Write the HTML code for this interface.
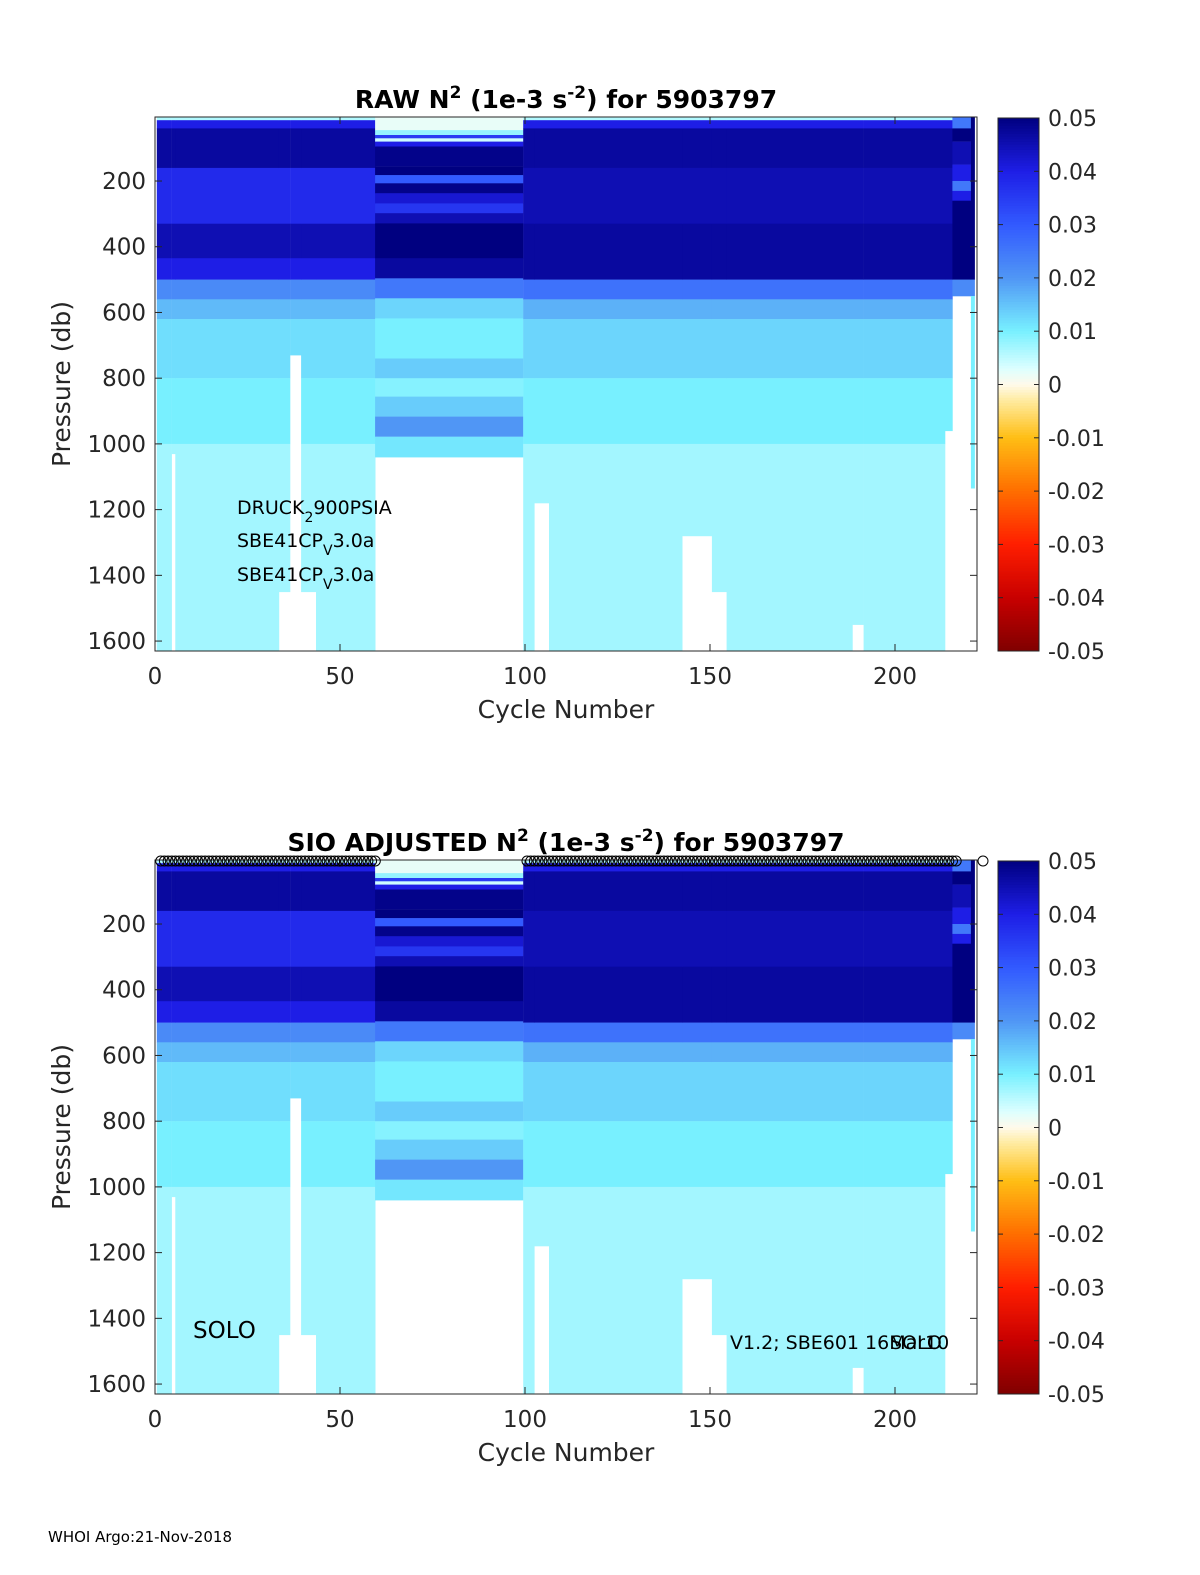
<!DOCTYPE html>
<html><head><meta charset="utf-8">
<style>
html,body{margin:0;padding:0;background:#fff;overflow:hidden;width:1200px;height:1575px;}
svg{display:block;font-family:"DejaVu Sans","Liberation Sans",sans-serif;}
</style></head>
<body>
<svg id="fig" width="1200" height="1575" viewBox="0 0 1200 1575" xmlns="http://www.w3.org/2000/svg">
<rect width="1200" height="1575" fill="#fff"/>
<text x="48" y="1542" font-size="15" fill="#000">WHOI Argo:21-Nov-2018</text>
</svg>
<script>
// ---------- data ----------
const cycleSegStart = [1, 5, 6, 34, 37, 40, 44, 60, 100, 103, 107, 143, 151, 155, 189, 192, 214, 216, 221];
const cycleSegEnd   = [4, 5, 33, 36, 39, 43, 59, 99, 102, 106, 142, 150, 154, 188, 191, 213, 215, 220, 221];
const cycleSegMaxP  = [1630, 1030, 1630, 1450, 730, 1450, 1630, 1040, 1630, 1180, 1630, 1280, 1450, 1630, 1550, 1630, 960, 550, 1135];
const cycleSegType  = ['A','A','A','A','A','A','A','B','C','C','C','C','C','C','C','C','C','D','E'];
// band edges (db) and N2 values (1e-3 s^-2) per profile type
const edgesA = [0, 15, 40, 160, 330, 435, 500, 560, 620, 800, 1000, 1630];
const valsA  = [0.006, 0.04, 0.047, 0.038, 0.045, 0.04, 0.022, 0.016, 0.012, 0.010, 0.007];
const edgesB = [0, 45, 60, 70, 80, 95, 156, 182, 207, 237, 268, 298, 329, 435, 496, 557, 618, 740, 800, 856, 917, 978, 1040];
const valsB  = [0.002, 0.008, 0.035, 0.004, 0.04, 0.049, 0.05, 0.03, 0.049, 0.042, 0.036, 0.045, 0.05, 0.047, 0.025, 0.013, 0.010, 0.014, 0.009, 0.014, 0.02, 0.011];
const edgesC = [0, 15, 40, 160, 330, 500, 560, 620, 800, 1000, 1630];
const valsC  = [0.006, 0.04, 0.047, 0.045, 0.047, 0.026, 0.017, 0.013, 0.010, 0.007];
const edgesD = [0, 40, 80, 150, 200, 230, 260, 500, 550];
const valsD  = [0.025, 0.05, 0.045, 0.04, 0.025, 0.04, 0.05, 0.022];
const edgesE = [0, 500, 550, 1135];
const valsE  = [0.05, 0.022, 0.01];
const cbTicks = [0.05, 0.04, 0.03, 0.02, 0.01, 0, -0.01, -0.02, -0.03, -0.04, -0.05];
const cbLabels = ['0.05','0.04','0.03','0.02','0.01','0','-0.01','-0.02','-0.03','-0.04','-0.05'];
const xTicks = [0, 50, 100, 150, 200];
const yTicks = [200, 400, 600, 800, 1000, 1200, 1400, 1600];
// ---------- scales ----------
const NS = 'http://www.w3.org/2000/svg';
const svg = document.getElementById('fig');
const X0 = 155, XPX = 3.7;
const xs = c => X0 + c * XPX;
const PPX = 0.3286;
function mk(tag, attrs, parent){const e=document.createElementNS(NS,tag);for(const k in attrs)e.setAttribute(k,attrs[k]);(parent||svg).appendChild(e);return e;}
const stops = [[-0.05,[128,0,0]],[-0.04,[200,0,0]],[-0.03,[255,30,0]],[-0.02,[255,110,0]],[-0.01,[255,190,20]],[-0.003,[255,235,160]],[0,[255,250,235]],[0.003,[220,255,255]],[0.01,[120,240,255]],[0.02,[80,150,245]],[0.03,[50,90,255]],[0.04,[30,30,230]],[0.05,[0,0,128]]];
function cmap(v){
  v=Math.max(-0.05,Math.min(0.05,v));
  for(let i=0;i<stops.length-1;i++){const a=stops[i],b=stops[i+1];
    if(v<=b[0]){const t=(v-a[0])/(b[0]-a[0]);const c=a[1].map((x,j)=>Math.round(x+(b[1][j]-x)*t));return `rgb(${c[0]},${c[1]},${c[2]})`;}}
  return 'rgb(0,0,128)';
}
const bandSets = {A:[edgesA,valsA],B:[edgesB,valsB],C:[edgesC,valsC],D:[edgesD,valsD],E:[edgesE,valsE]};

function panel(top, title, showCircles, labels){
  const bot = top + 534;
  const ys = p => top - 1.7 + p * PPX;
  const g = mk('g',{});
  
  
  const clip = mk('clipPath',{id:'clip'+top},g);
  mk('rect',{x:X0,y:top,width:822,height:534},clip);
  const hm = mk('g',{'clip-path':`url(#clip${top})`},g);
  
  
  for(let s=0;s<cycleSegStart.length;s++){
    const [ed,vl] = bandSets[cycleSegType[s]];
    const x1 = xs(cycleSegStart[s]-0.5), x2 = xs(cycleSegEnd[s]+0.5);
    for(let b=0;b<vl.length;b++){
      const p1 = ed[b], p2 = Math.min(ed[b+1], cycleSegMaxP[s]);
      if(p2<=p1) continue;
      const r = mk('rect',{x:x1.toFixed(1),y:ys(p1).toFixed(1),width:(x2-x1+0.3).toFixed(1),height:(ys(p2)-ys(p1)+0.3).toFixed(1),fill:cmap(vl[b])},hm);
      
      
    }
  }
  const ax = mk('rect',{x:X0,y:top,width:822,height:534,fill:'none',stroke:'#262626','stroke-width':1},g);
  
  
  xTicks.forEach(t=>{
    const x=xs(t);
    mk('line',{x1:x,x2:x,y1:bot,y2:bot-7,stroke:'#262626'},g);
    mk('line',{x1:x,x2:x,y1:top,y2:top+7,stroke:'#262626'},g);
    const tx=mk('text',{x:x,y:bot+33,'font-size':23,'text-anchor':'middle',fill:'#262626'},g);tx.textContent=t;
    
    
  });
  yTicks.forEach(t=>{
    const y=ys(t);
    mk('line',{x1:X0,x2:X0+7,y1:y,y2:y,stroke:'#262626'},g);
    mk('line',{x1:977,x2:970,y1:y,y2:y,stroke:'#262626'},g);
    const tx=mk('text',{x:146,y:y+8,'font-size':23,'text-anchor':'end',fill:'#262626'},g);tx.textContent=t;
    
    
  });
  const xl=mk('text',{x:566,y:bot+67,'font-size':25,'text-anchor':'middle',fill:'#262626'},g);xl.textContent='Cycle Number';
  
  
  const yl=mk('text',{x:0,y:0,'font-size':25,'text-anchor':'middle',fill:'#262626',transform:`translate(70,${top+267}) rotate(-90)`},g);yl.textContent='Pressure (db)';
  
  
  const ti=mk('text',{x:566,y:top-9,'font-size':25,'font-weight':'bold','text-anchor':'middle',fill:'#000'},g);
  ti.innerHTML=title;
  
  
  const cb=mk('g',{},g);
  
  
  const cy = v => top + 1 + (0.05 - v) / 0.1 * 533;
  for(let i=0;i<200;i++){
    const v1=0.05-i*0.0005, v2=v1-0.0005;
    mk('rect',{x:998,y:cy(v1).toFixed(2),width:41,height:(cy(v2)-cy(v1)+0.4).toFixed(2),fill:cmap((v1+v2)/2)},cb);
  }
  mk('rect',{x:998,y:top+1,width:41,height:533,fill:'none',stroke:'#262626'},cb);
  cbTicks.forEach((t,i)=>{
    const y=cy(t);
    mk('line',{x1:1039,x2:1034,y1:y,y2:y,stroke:'#262626'},cb);
    mk('line',{x1:998,x2:1003,y1:y,y2:y,stroke:'#262626'},cb);
    const tx=mk('text',{x:1048,y:y+8,'font-size':22,fill:'#262626'},cb);tx.textContent=cbLabels[i];
    
    
  });
  if(showCircles){
    for(let s=0;s<cycleSegStart.length;s++){
      if(cycleSegType[s]==='B') continue;
      for(let c=cycleSegStart[s];c<=Math.min(cycleSegEnd[s],216);c++){
        const ci=mk('circle',{cx:xs(c)+2,cy:top+1,r:5,fill:'none',stroke:'#000','stroke-width':1},g);
        
        
      }
    }
    const ci=mk('circle',{cx:983,cy:top+1,r:5,fill:'none',stroke:'#000','stroke-width':1},g);
    
    
  }
  labels.forEach(l=>{
    const tx=mk('text',{x:l[0],y:l[1],'font-size':l[3],fill:'#000'},g);tx.innerHTML=l[2];
    
    
  });
}
panel(117,'RAW N<tspan baseline-shift="super" font-size="17">2</tspan> (1e-3 s<tspan baseline-shift="super" font-size="17">-2</tspan>) for 5903797',false,
  [[237,514,'DRUCK<tspan baseline-shift="sub" font-size="14">2</tspan>900PSIA',19],[237,547,'SBE41CP<tspan baseline-shift="sub" font-size="14">V</tspan>3.0a',19],[237,581,'SBE41CP<tspan baseline-shift="sub" font-size="14">V</tspan>3.0a',19]]);
panel(860,'SIO  ADJUSTED N<tspan baseline-shift="super" font-size="17">2</tspan> (1e-3 s<tspan baseline-shift="super" font-size="17">-2</tspan>) for 5903797',true,
  [[193,1338,'SOLO',23],[730,1349,'V1.2; SBE601 16Mar10',19],[890,1349,'SOLO',19]]);
</script>
</body></html>
